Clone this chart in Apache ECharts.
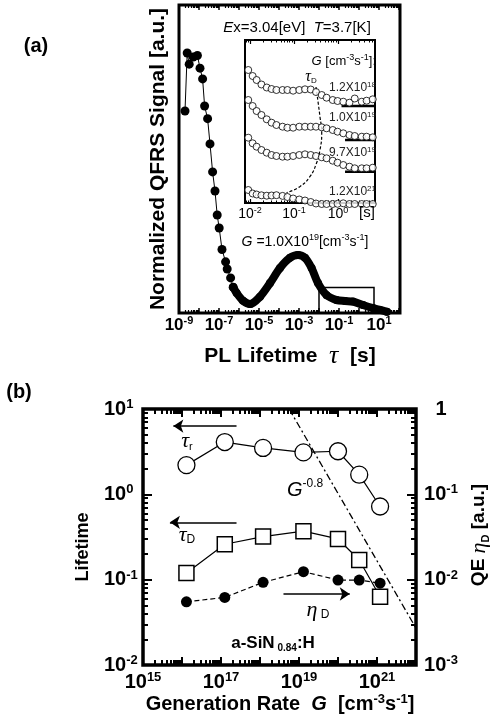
<!DOCTYPE html>
<html>
<head>
<meta charset="utf-8">
<script src="https://cdn.jsdelivr.net/npm/echarts@6.0.0/dist/echarts.min.js"></script>
<style>html,body{margin:0;padding:0;background:#fff;}#chart{width:490px;height:720px;}</style>
</head>
<body>
<div id="chart"></div>
<script>
// ===== Panel (a) main curve: x = log10(PL lifetime τ [s]), y = normalized QFRS signal
const mainSparseLogTau = [-8.70,-8.59,-8.49,-8.29,-8.08,-7.95,-7.82,-7.72,-7.57,-7.45,-7.32,-7.20,-7.09,-6.99,-6.85,-6.67,-6.59,-6.42,-6.29];
const mainSparseSignal = [0.656,0.844,0.808,0.831,0.836,0.795,0.760,0.672,0.631,0.549,0.458,0.396,0.318,0.276,0.206,0.166,0.143,0.114,0.084];
const mainDenseLogTau  = [-6.29,-6.12,-5.80,-5.45,-4.95,-4.45,-3.95,-3.45,-3.05,-2.70,-2.37,-2.05,-1.62,-1.12,-0.70,-0.30,0.20,0.70,1.05,1.40];
const mainDenseSignal  = [0.084,0.065,0.040,0.029,0.053,0.097,0.146,0.179,0.188,0.179,0.146,0.097,0.058,0.042,0.039,0.037,0.026,0.016,0.010,0.004];
const zoomBoxLogTau = [-2.0, 0.75];
const zoomBoxTop = 0.083;
const mainLabelExp = [-9,-7,-5,-3,-1,1];

// ===== Panel (a) inset: x = log10(τ [s]), y = signal (offset curves, arbitrary units)
const insetLogTau = [-2.04,-1.94,-1.85,-1.74,-1.62,-1.51,-1.40,-1.26,-1.15,-1.02,-0.88,-0.75,-0.62,-0.50,-0.37,-0.26,-0.12,-0.01,0.12,0.26,0.38,0.54,0.65,0.79];
const insetG12e18 = [133,127,123,118.5,115.5,114,113,113,113,112.3,113,113.7,113.5,111,108,105.3,103,102,101.3,100.3,104.5,101.3,102.3,103.7];
const insetG10e19 = [103,97,92,88,83.7,80.3,78,76.3,75.3,75.3,76.3,76.3,76.3,76.3,75.7,74.7,73,71.3,69.7,68,67,66.3,66.3,65.7];
const insetG97e19 = [65.3,59.7,56.3,53,50.3,48,47,46.3,46.3,47,48,48.7,48,47,45.7,44.7,42.3,40.3,38,36.3,34.7,34.7,34.7,35.3];
const insetG12e21 = [13,9.5,8.5,7.7,7.3,7.5,7.8,7.1,6,4.5,3.5,2.5,1,-0.5,-1,-1,-1,-0.8,-0.3,-1,-1,-1,-1,-1];
const insetBaseLevel = [97, 63, 31.3];
const insetBaseStart = [0.08, 0.16, 0.16];
const insetTauDLogTau = [-0.50,-0.41,-0.37,-0.41,-0.49,-0.64,-0.87,-1.17];
const insetTauDSignal = [116,86.3,69.7,53,39.7,26.3,16.3,10.3];
const insetLabelExp = [-2,-1,0];

// ===== Panel (b): generation rate G [cm^-3 s^-1], lifetimes [s], QE
const genRate = [1.3e16, 1.25e17, 1.2e18, 1.3e19, 1.0e20, 3.5e20, 1.2e21];
const tauR    = [2.2, 4.1, 3.5, 3.1, 3.2, 1.7, 0.72];
const tauD    = [0.12, 0.26, 0.32, 0.37, 0.30, 0.17, 0.063];
const etaD    = [0.0055, 0.0062, 0.0093, 0.0124, 0.0099, 0.0099, 0.0091];
const powerLawG   = [5.6e18, 1e22];
const powerLawTau = [10, 0.027];
const arrowTauR = {fromG: 2.5e17, toG: 6.0e15, value: 6.3};
const arrowTauD = {fromG: 2.5e17, toG: 4.9e15, value: 0.47};
const arrowEta  = {fromG: 4.0e18, toG: 2.0e20, value: 0.0068};
const bLabelExpX = [15,17,19,21];
const bLabelExpLeft = [-2,-1,0,1];
const bLabelExpRight = [-3,-2,-1,0];

// ---------- helpers ----------
const L = Math.log10;
const FONT = '"Liberation Sans", Arial, Helvetica, sans-serif';
const SERIF = '"Liberation Serif", "Times New Roman", serif';
function zip(xs, ys) { return xs.map((x, i) => [x, ys[i]]); }
function majors(lo, hi) { const a = []; for (let n = Math.ceil(lo - 1e-9); n <= hi + 1e-9; n++) a.push(n); return a; }
function minors(lo, hi) {
  const a = [];
  for (let n = Math.floor(lo) - 1; n <= Math.ceil(hi); n++)
    for (let k = 2; k <= 9; k++) { const v = n + L(k); if (v > lo + 1e-6 && v < hi - 1e-6) a.push(+v.toFixed(5)); }
  return a;
}
function tickAxis(gi, pos, min, max, vals, len, width, label) {
  return {
    type: 'value', gridIndex: gi, position: pos, min: min, max: max,
    axisLine: {show: false, onZero: false}, splitLine: {show: false},
    axisTick: {show: true, inside: true, length: len, customValues: vals, lineStyle: {color: '#000', width: width}},
    axisLabel: label || {show: false}, z: 5
  };
}
function tok(size, o) {
  return Object.assign({fontFamily: FONT, fontSize: size, fontWeight: 'normal', color: '#000', fill: '#000'}, o || {});
}
function supLabel(size, supSize, bold, lh) {
  return {
    b: tok(size, {fontWeight: bold ? 'bold' : 'normal', lineHeight: lh}),
    s: tok(supSize, {fontWeight: bold ? 'bold' : 'normal', lineHeight: supSize, verticalAlign: 'top'})
  };
}
function expFmt(v) { const e = Math.round(v); return '{b|10}{s|' + e + '}'; }

// ---------- grids ----------
const A = {min: -9, max: 2.05};      // main x range (log)
const I = {min: -2.114, max: 0.841}; // inset x range (log)
const B = {xmin: 15, xmax: 22, lmin: -2, lmax: 1, rmin: -3, rmax: 0};

const grid = [
  {left: 179, top: 5, width: 221, height: 308, show: true, borderColor: '#000', borderWidth: 3, backgroundColor: 'transparent', outerBoundsMode: 'none', containLabel: false},
  {left: 245, top: 40, width: 130, height: 163, show: true, borderColor: '#000', borderWidth: 2, backgroundColor: '#fff', outerBoundsMode: 'none', containLabel: false},
  {left: 143, top: 409, width: 273, height: 256, show: true, borderColor: '#000', borderWidth: 3.5, backgroundColor: 'transparent', outerBoundsMode: 'none', containLabel: false}
];

const xAxis = [
  tickAxis(0, 'bottom', A.min, A.max, majors(A.min, A.max), 5, 1.5, {
    show: true, customValues: mainLabelExp, margin: 2, formatter: expFmt, rich: supLabel(17, 11, true, 20)
  }),
  tickAxis(0, 'bottom', A.min, A.max, minors(A.min, A.max), 3, 1.2),
  tickAxis(0, 'top', A.min, A.max, majors(A.min, A.max), 5, 1.5),
  tickAxis(0, 'top', A.min, A.max, minors(A.min, A.max), 3, 1.2),
  tickAxis(1, 'bottom', I.min, I.max, majors(I.min, I.max), 4, 1.2, {
    show: true, customValues: insetLabelExp, margin: 3, formatter: expFmt, rich: supLabel(14, 9, false, 17)
  }),
  tickAxis(1, 'bottom', I.min, I.max, minors(I.min, I.max), 2.5, 1),
  tickAxis(1, 'top', I.min, I.max, majors(I.min, I.max), 4, 1.2),
  tickAxis(1, 'top', I.min, I.max, minors(I.min, I.max), 2.5, 1),
  tickAxis(2, 'bottom', B.xmin, B.xmax, majors(B.xmin, B.xmax), 8, 2, {
    show: true, customValues: bLabelExpX, margin: 6, formatter: expFmt, rich: supLabel(20, 13, true, 22)
  }),
  tickAxis(2, 'bottom', B.xmin, B.xmax, minors(B.xmin, B.xmax), 5, 2),
  tickAxis(2, 'top', B.xmin, B.xmax, majors(B.xmin, B.xmax), 8, 2),
  tickAxis(2, 'top', B.xmin, B.xmax, minors(B.xmin, B.xmax), 5, 2)
];

const yAxis = [
  {type: 'value', gridIndex: 0, min: 0, max: 1, show: false},
  {type: 'value', gridIndex: 1, min: 0, max: 163, show: false},
  tickAxis(2, 'left', B.lmin, B.lmax, majors(B.lmin, B.lmax), 9, 2, {
    show: true, customValues: bLabelExpLeft, margin: 39, align: 'left', formatter: expFmt, rich: supLabel(20, 13, true, 22)
  }),
  tickAxis(2, 'left', B.lmin, B.lmax, minors(B.lmin, B.lmax), 5, 2),
  tickAxis(2, 'right', B.rmin, B.rmax, majors(B.rmin, B.rmax), 9, 2, {
    show: true, customValues: bLabelExpRight, margin: 25, align: 'center',
    formatter: v => (Math.round(v) === 0 ? '{b|1}' : expFmt(v)), rich: supLabel(20, 13, true, 22)
  }),
  tickAxis(2, 'right', B.rmin, B.rmax, minors(B.rmin, B.rmax), 5, 2)
];

function arrowMark(a) {
  return {
    silent: true, symbol: ['none', 'arrow'], symbolSize: 10, symbolKeepAspect: false, animation: false,
    label: {show: false}, emphasis: {disabled: true},
    itemStyle: {color: '#000'},
    lineStyle: {color: '#000', width: 1.5, type: 'solid'},
    data: [[{coord: [L(a.fromG), L(a.value)], symbol: 'none'}, {coord: [L(a.toG), L(a.value)], symbol: 'arrow', symbolSize: 10}]]
  };
}

const series = [
  {type: 'line', xAxisIndex: 0, yAxisIndex: 0, data: zip(mainSparseLogTau, mainSparseSignal),
   symbol: 'circle', symbolSize: 9, showAllSymbol: true, clip: false,
   itemStyle: {color: '#000'}, lineStyle: {color: '#000', width: 1}, z: 3},
  {type: 'line', xAxisIndex: 0, yAxisIndex: 0, data: zip(mainDenseLogTau, mainDenseSignal), smooth: 0.3,
   symbol: 'circle', symbolSize: 8, showAllSymbol: true, clip: false,
   itemStyle: {color: '#000'}, lineStyle: {color: '#000', width: 8, cap: 'round', join: 'round'}, z: 3,
   markArea: {silent: true, label: {show: false},
     itemStyle: {color: 'rgba(0,0,0,0)', borderColor: '#000', borderWidth: 1.5},
     data: [[{coord: [zoomBoxLogTau[0], 0]}, {coord: [zoomBoxLogTau[1], zoomBoxTop]}]]}},
  ...[insetG12e18, insetG10e19, insetG97e19, insetG12e21].map(c => ({
    type: 'scatter', xAxisIndex: 4, yAxisIndex: 1, data: zip(insetLogTau, c), clip: false,
    symbol: 'circle', symbolSize: 7, itemStyle: {color: '#fff', borderColor: '#000', borderWidth: 1}, z: 6
  })),
  ...insetBaseLevel.map((lv, i) => ({
    type: 'line', xAxisIndex: 4, yAxisIndex: 1, data: [[insetBaseStart[i], lv], [I.max, lv]],
    symbol: 'none', lineStyle: {color: '#000', width: 2.5}, z: 5
  })),
  {type: 'line', xAxisIndex: 4, yAxisIndex: 1, data: zip(insetTauDLogTau, insetTauDSignal), smooth: 0.5,
   symbol: 'none', lineStyle: {color: '#000', width: 1.2, type: [3, 2]}, z: 5},
  {type: 'line', xAxisIndex: 8, yAxisIndex: 2, data: zip(genRate.map(L), tauR.map(L)),
   symbol: 'circle', symbolSize: 17, itemStyle: {color: '#fff', borderColor: '#000', borderWidth: 1.3},
   lineStyle: {color: '#000', width: 1.2}, z: 4, markLine: arrowMark(arrowTauR)},
  {type: 'line', xAxisIndex: 8, yAxisIndex: 2, data: zip(genRate.map(L), tauD.map(L)),
   symbol: 'rect', symbolSize: 15, itemStyle: {color: '#fff', borderColor: '#000', borderWidth: 1.5},
   lineStyle: {color: '#000', width: 1.2}, z: 4, markLine: arrowMark(arrowTauD)},
  {type: 'line', xAxisIndex: 8, yAxisIndex: 4, data: zip(genRate.map(L), etaD.map(L)),
   symbol: 'circle', symbolSize: 11, itemStyle: {color: '#000'},
   lineStyle: {color: '#000', width: 1.2, type: [5, 3]}, z: 5, markLine: arrowMark(arrowEta)},
  {type: 'line', xAxisIndex: 8, yAxisIndex: 2, data: zip(powerLawG.map(L), powerLawTau.map(L)),
   symbol: 'none', lineStyle: {color: '#000', width: 1.3, type: [7, 3, 2, 3]}, z: 3}
];

function rt(x, y, text, rich, align, extra) {
  return Object.assign({type: 'text', x: x, y: y, silent: true, z: 100,
    style: {text: text, rich: rich, textAlign: align || 'center', textVerticalAlign: 'middle', fill: '#000'}}, extra || {});
}
const graphicEls = [
  rt(36, 46, '{a|(a)}', {a: tok(20, {fontWeight: 'bold'})}),
  rt(19, 392, '{a|(b)}', {a: tok(20, {fontWeight: 'bold'})}),
  rt(158, 159, '{a|Normalized QFRS Signal [a.u.]}', {a: tok(21, {fontWeight: 'bold'})}, 'center', {rotation: Math.PI / 2}),
  rt(290, 356, '{a|PL Lifetime  }{t|τ}{a|  [s]}', {a: tok(21, {fontWeight: 'bold', lineHeight: 26}), t: tok(26, {fontFamily: SERIF, fontStyle: 'italic', lineHeight: 26})}),
  rt(297, 28, '{i|E}{n|x=3.04[eV]  }{i|T}{n|=3.7[K]}', {i: tok(15, {fontStyle: 'italic'}), n: tok(15)}),
  rt(376, 61, '{i|G}{n| [cm}{s|-3}{n|s}{s|-1}{n|]:}', {i: tok(13, {fontStyle: 'italic', lineHeight: 16}), n: tok(13, {lineHeight: 16}), s: tok(9, {lineHeight: 9, verticalAlign: 'top'})}, 'right'),
  rt(311, 77, '{t|τ}{d|D}', {t: tok(16, {fontFamily: SERIF, fontStyle: 'italic', lineHeight: 16}), d: tok(8, {lineHeight: 8, verticalAlign: 'bottom'})}),
  ...[['1.2X10', '18', 88], ['1.0X10', '19', 118], ['9.7X10', '19', 153], ['1.2X10', '21', 192]].map(t =>
    rt(376, t[2], '{n|' + t[0] + '}{s|' + t[1] + '}', {n: tok(12, {color: '#222', fill: '#222', lineHeight: 15}), s: tok(8, {color: '#222', fill: '#222', lineHeight: 8, verticalAlign: 'top'})}, 'right')),
  rt(367, 213, '{n|[s]}', {n: tok(15)}),
  rt(305, 242, '{i|G}{n| =1.0X10}{s|19}{n|[cm}{s|-3}{n|s}{s|-1}{n|]}', {i: tok(14, {fontStyle: 'italic', lineHeight: 17}), n: tok(14, {lineHeight: 17}), s: tok(9, {lineHeight: 9, verticalAlign: 'top'})}),
  rt(83, 547, '{a|Lifetime}', {a: tok(18, {fontWeight: 'bold'})}, 'center', {rotation: Math.PI / 2}),
  rt(479, 535, '{a|QE }{e|η}{d|D}{a| [a.u.]}', {a: tok(19, {fontWeight: 'bold', lineHeight: 24}), e: tok(22, {fontFamily: SERIF, fontStyle: 'italic', lineHeight: 24}), d: tok(11, {fontWeight: 'bold', lineHeight: 12, verticalAlign: 'bottom'})}, 'center', {rotation: Math.PI / 2}),
  rt(280, 704, '{a|Generation Rate  }{g|G}{a|  [cm}{s|-3}{a|s}{s|-1}{a|]}', {a: tok(20, {fontWeight: 'bold', lineHeight: 22}), g: tok(20, {fontWeight: 'bold', fontStyle: 'italic', lineHeight: 22}), s: tok(13, {fontWeight: 'bold', lineHeight: 13, verticalAlign: 'top'})}),
  rt(187, 441, '{t|τ}{d|r}', {t: tok(22, {fontFamily: SERIF, fontStyle: 'italic', lineHeight: 22}), d: tok(11, {lineHeight: 11, verticalAlign: 'bottom'})}),
  rt(187, 535, '{t|τ}{d|D}', {t: tok(22, {fontFamily: SERIF, fontStyle: 'italic', lineHeight: 22}), d: tok(12, {lineHeight: 12, verticalAlign: 'bottom'})}),
  rt(287, 490, '{g|G}{s|-0.8}', {g: tok(20, {fontStyle: 'italic', lineHeight: 24}), s: tok(12, {lineHeight: 12, verticalAlign: 'top'})}, 'left'),
  rt(318, 610, '{e|η}{d| D}', {e: tok(22, {fontFamily: SERIF, fontStyle: 'italic', lineHeight: 22}), d: tok(12, {lineHeight: 12, verticalAlign: 'bottom'})}),
  rt(273, 643, '{a|a-SiN}{s| 0.84}{a|:H}', {a: tok(17, {fontWeight: 'bold', lineHeight: 20}), s: tok(10, {fontWeight: 'bold', lineHeight: 10, verticalAlign: 'bottom'})})
];

const chart = echarts.init(document.getElementById('chart'), null, {renderer: 'canvas'});
chart.setOption({
  animation: false,
  backgroundColor: '#fff',
  textStyle: {fontFamily: FONT},
  grid: grid,
  xAxis: xAxis,
  yAxis: yAxis,
  series: series,
  graphic: {elements: graphicEls}
});
</script>
</body>
</html>
